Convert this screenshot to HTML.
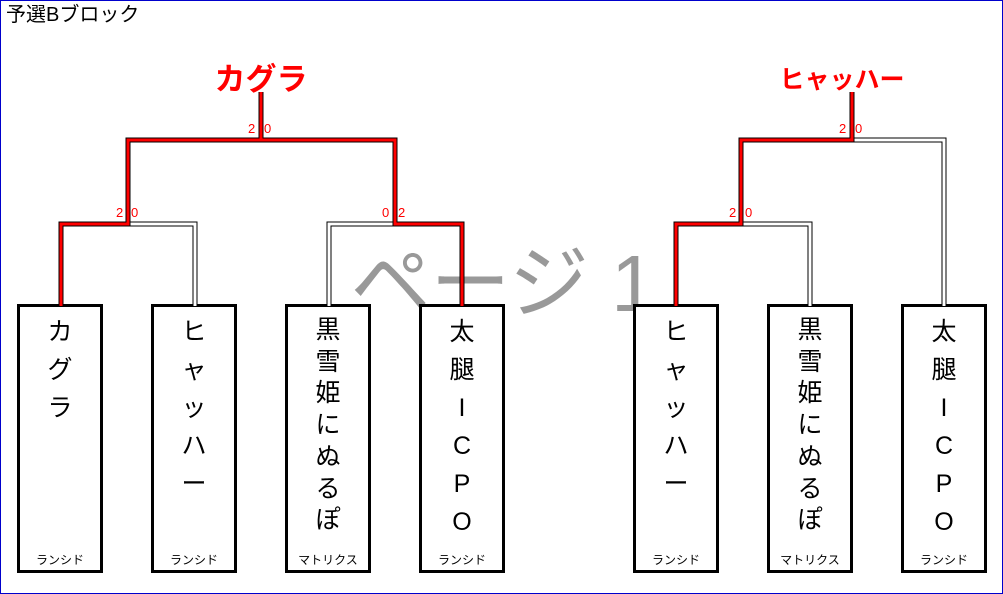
<!DOCTYPE html>
<html><head><meta charset="utf-8"><style>
html,body{margin:0;padding:0;background:#fff}
.wrap{position:relative;width:1003px;height:594px;overflow:hidden;font-family:"Liberation Sans","Noto Sans CJK JP",sans-serif}
.frame{position:absolute;left:0;top:0;width:1001px;height:592px;border:1px solid #0000cc}
.box{position:absolute;top:304px;width:80px;height:263px;border:3px solid #000;background:#fff}
.chars{position:absolute;top:6px;left:0;width:100%;text-align:center;font-size:25px;line-height:38px;color:#000}
.chars.tight{line-height:31.7px;top:8px}
.foot{position:absolute;bottom:2px;left:0;width:100%;text-align:center;font-size:12px;color:#000}
.sc{position:absolute;font-size:13px;color:#f00;font-family:"Liberation Sans","Noto Sans CJK JP",sans-serif}
</style></head><body><div class="wrap">
<div class="frame"></div>
<div style="position:absolute;left:6px;top:2px;font-size:20px;line-height:26px">予選Bブロック</div>
<svg width="1003" height="594" style="position:absolute;left:0;top:0">
<text x="503" y="311" font-size="80" fill="#999" text-anchor="middle" font-family="Liberation Sans,Noto Sans CJK JP,sans-serif">ページ 1</text>
</svg>
<div class="box" style="left:17px"><div class="chars">カ<br>グ<br>ラ</div><div class="foot">ランシド</div></div>
<div class="box" style="left:151px"><div class="chars">ヒ<br>ャ<br>ッ<br>ハ<br>ー</div><div class="foot">ランシド</div></div>
<div class="box" style="left:285px"><div class="chars tight">黒<br>雪<br>姫<br>に<br>ぬ<br>る<br>ぽ</div><div class="foot">マトリクス</div></div>
<div class="box" style="left:419px"><div class="chars">太<br>腿<br>I<br>C<br>P<br>O</div><div class="foot">ランシド</div></div>
<div class="box" style="left:633px"><div class="chars">ヒ<br>ャ<br>ッ<br>ハ<br>ー</div><div class="foot">ランシド</div></div>
<div class="box" style="left:767px"><div class="chars tight">黒<br>雪<br>姫<br>に<br>ぬ<br>る<br>ぽ</div><div class="foot">マトリクス</div></div>
<div class="box" style="left:901px"><div class="chars">太<br>腿<br>I<br>C<br>P<br>O</div><div class="foot">ランシド</div></div>
<svg width="1003" height="594" style="position:absolute;left:0;top:0">
<g fill="none" stroke-linejoin="miter">
<g stroke="#000" stroke-width="5">
<polyline points="195,304 195,224 128,224"/>
<polyline points="329,304 329,224 395,224"/>
<polyline points="395,140 261,140"/>
<polyline points="810,304 810,224 741,224"/>
<polyline points="944,304 944,140 852,140"/>
</g>
<g stroke="#fff" stroke-width="3">
<polyline points="195,306 195,224 128,224"/>
<polyline points="329,306 329,224 395,224"/>
<polyline points="395,140 261,140"/>
<polyline points="810,306 810,224 741,224"/>
<polyline points="944,306 944,140 852,140"/>
</g>
<g stroke="#000" stroke-width="5">
<polyline points="61,304 61,224 128,224 128,140 261,140 261,92"/>
<polyline points="462,304 462,224 395,224 395,140 261,140"/>
<polyline points="676,304 676,224 741,224 741,140 852,140 852,92"/>
</g>
<g stroke="#f00" stroke-width="3">
<polyline points="61,306 61,224 128,224 128,140 261,140 261,92"/>
<polyline points="462,306 462,224 395,224 395,140 261,140"/>
<polyline points="676,306 676,224 741,224 741,140 852,140 852,92"/>
</g>
</g>
</svg>
<div style="position:absolute;left:161px;width:200px;top:54px;text-align:center;font-size:31px;font-weight:bold;color:#f00">カグラ</div>
<div style="position:absolute;left:742px;width:200px;top:60px;text-align:center;font-size:25px;font-weight:bold;color:#f00">ヒャッハー</div>
<div class="sc" style="left:116px;top:205px">2</div><div class="sc" style="left:131px;top:205px">0</div>
<div class="sc" style="left:248px;top:121px">2</div><div class="sc" style="left:264px;top:121px">0</div>
<div class="sc" style="left:382px;top:205px">0</div><div class="sc" style="left:398px;top:205px">2</div>
<div class="sc" style="left:729px;top:205px">2</div><div class="sc" style="left:745px;top:205px">0</div>
<div class="sc" style="left:839px;top:121px">2</div><div class="sc" style="left:855px;top:121px">0</div>
</div></body></html>
